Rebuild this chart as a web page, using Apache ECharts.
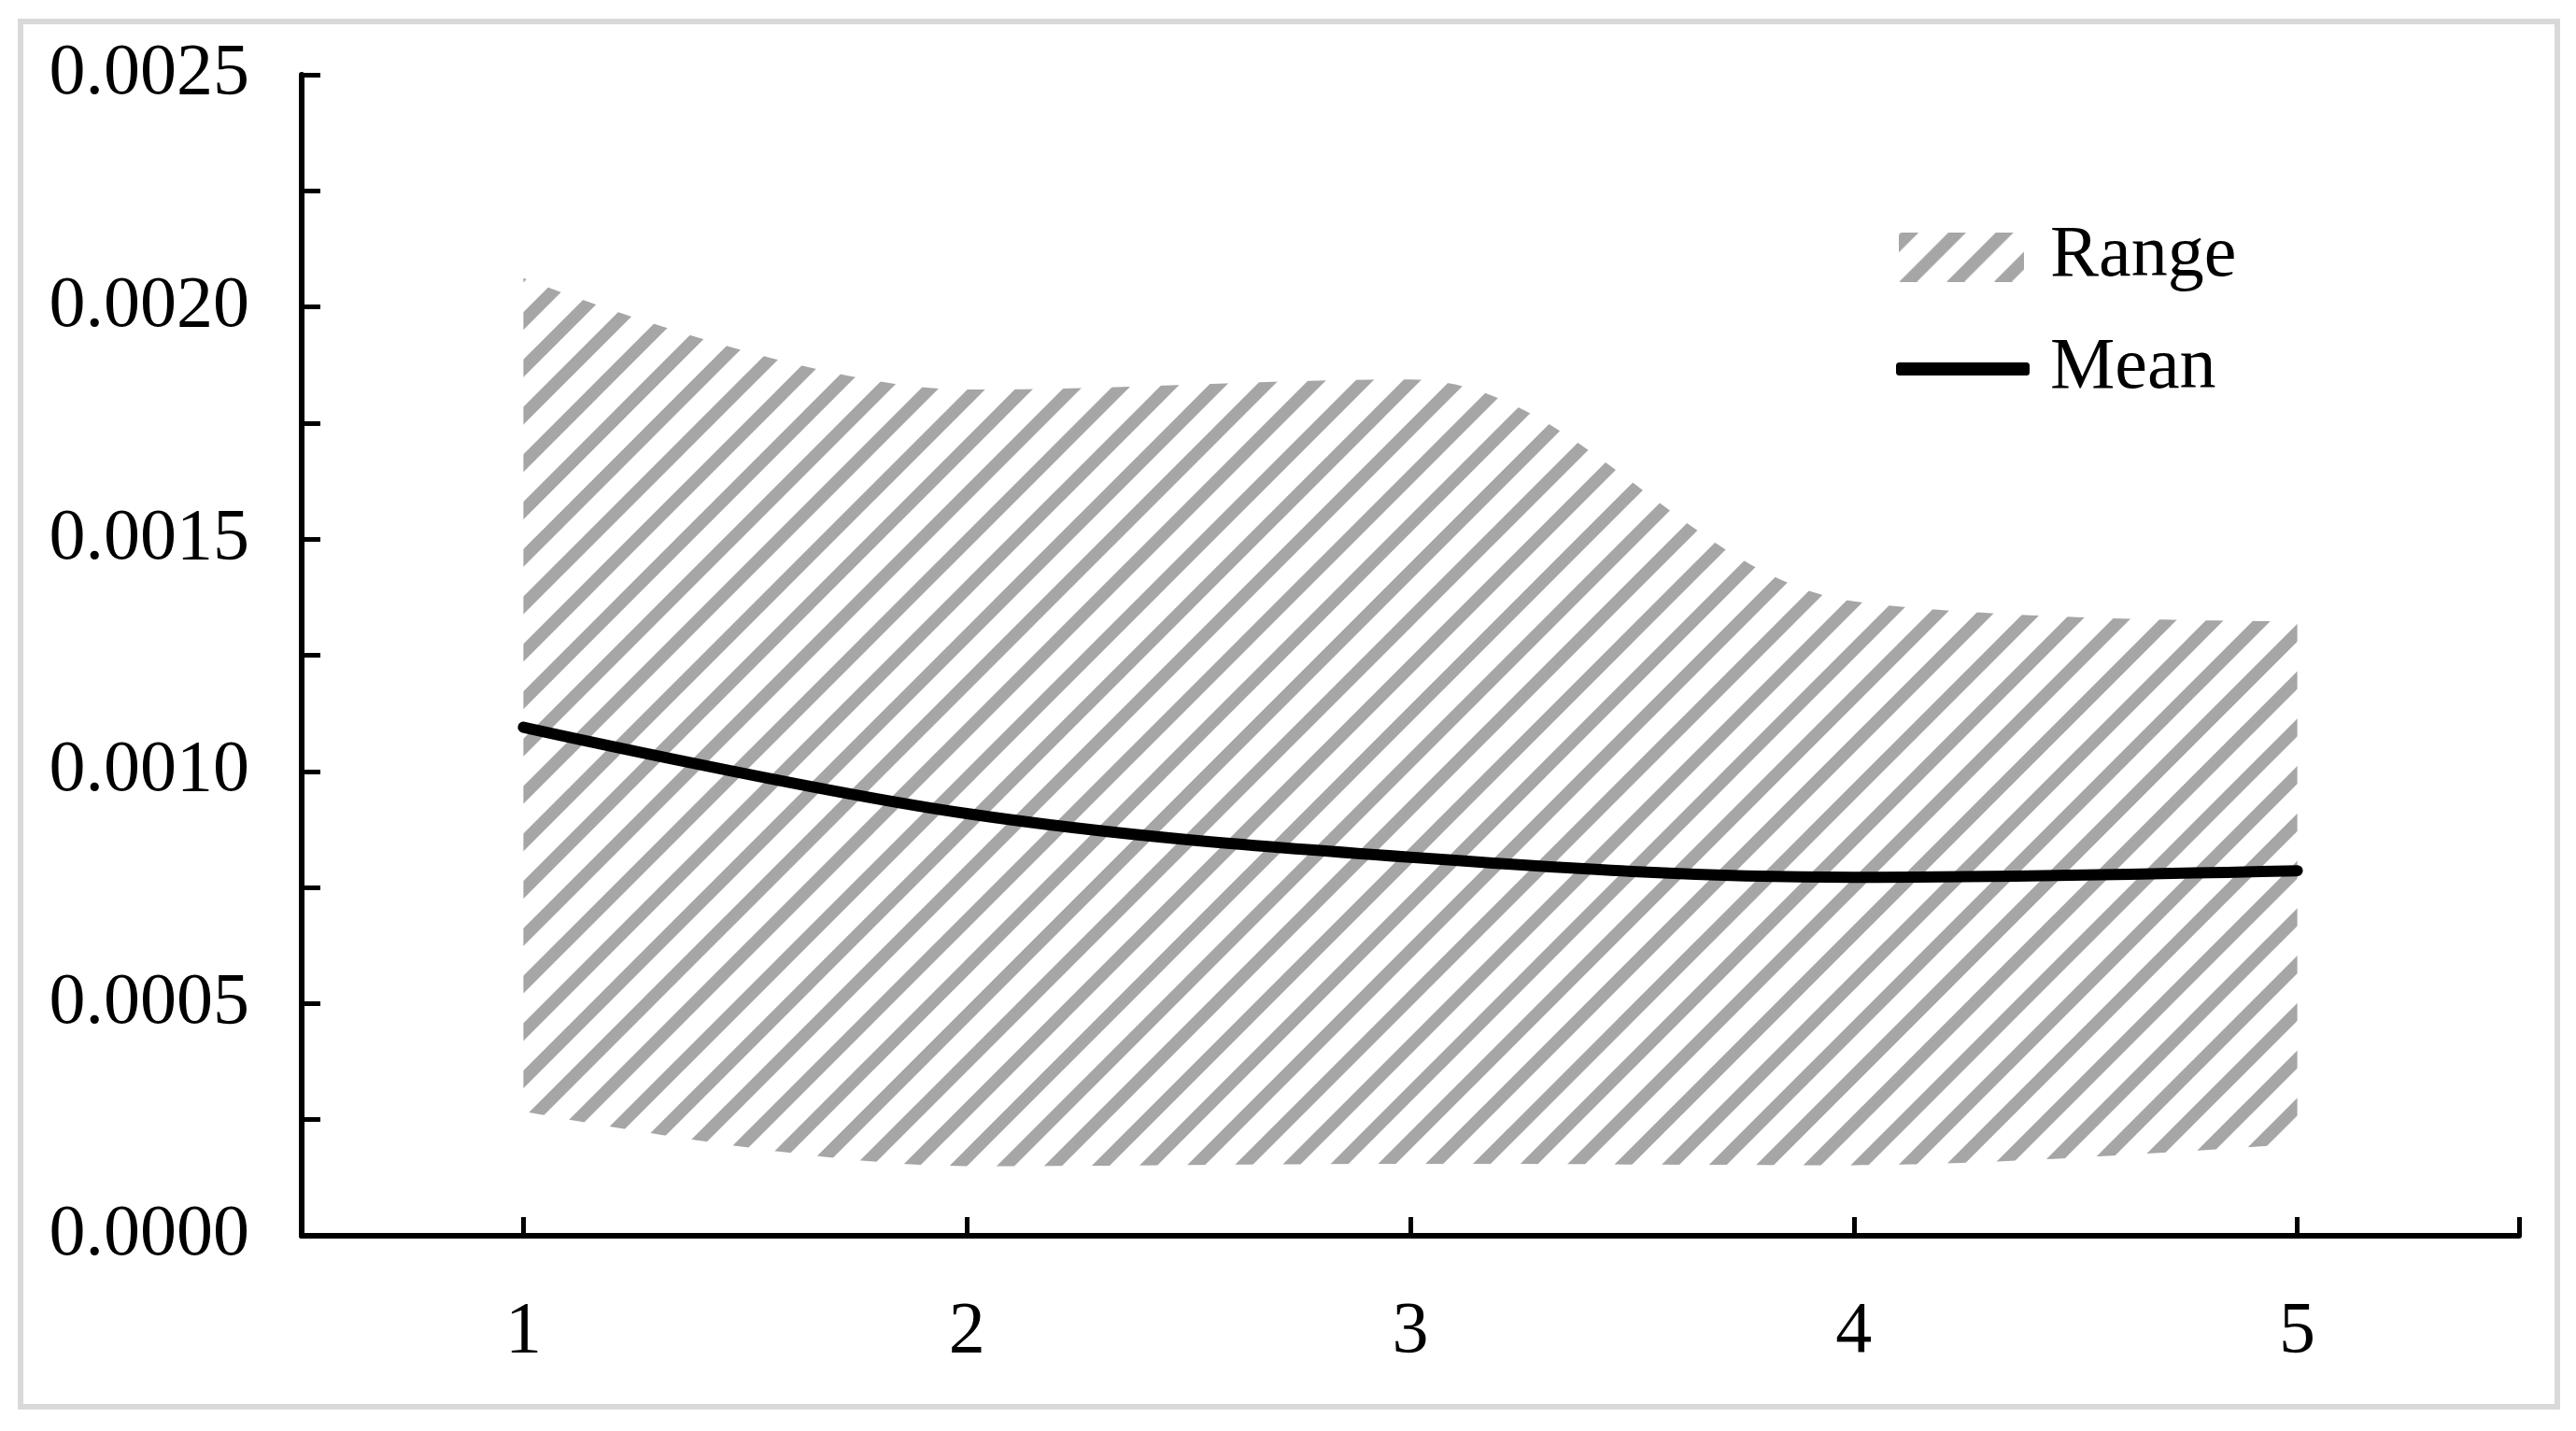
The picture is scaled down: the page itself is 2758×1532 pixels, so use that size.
<!DOCTYPE html>
<html><head><meta charset="utf-8">
<script src="https://cdn.jsdelivr.net/npm/echarts@6/dist/echarts.min.js"></script>
<style>html,body{margin:0;padding:0;background:#fff}#c{width:2758px;height:1532px}</style>
</head><body><div id="c"></div>
<script>
const categories = [1, 2, 3, 4, 5];
const rangeLower = [0.000268, 0.000150, 0.000155, 0.000152, 0.000198];
const rangeUpper = [0.002062, 0.001822, 0.001844, 0.001366, 0.001323];
const meanValues = [0.001095, 0.000909, 0.000815, 0.000772, 0.000786];
const yTickLabels = [0, 0.0005, 0.0010, 0.0015, 0.0020, 0.0025];
const xAxisEnds = [0.5, 5.5];

const HATCH = '#A6A6A6';
function makeHatch(phase) {
  const S = 203, P = S / 4, w = 19;
  const cv = document.createElement('canvas');
  cv.width = S; cv.height = S;
  const ctx = cv.getContext('2d');
  ctx.fillStyle = '#fff';
  ctx.fillRect(0, 0, S, S);
  ctx.strokeStyle = HATCH;
  ctx.lineWidth = w / Math.SQRT2;
  for (let k = -3; k < 14; k++) {
    const s = phase + k * P;
    ctx.beginPath();
    ctx.moveTo(s + 10, -10);
    ctx.lineTo(s - S - 10, S + 10);
    ctx.stroke();
  }
  return cv;
}
function makeLegendHatch(W, H, phase) {
  const P = 50.75, w = 19;
  const cv = document.createElement('canvas');
  cv.width = W; cv.height = H;
  const ctx = cv.getContext('2d');
  ctx.fillStyle = '#fff';
  ctx.fillRect(0, 0, W, H);
  ctx.strokeStyle = HATCH;
  ctx.lineWidth = w / Math.SQRT2;
  for (let k = -2; k < 8; k++) {
    const s = phase + k * P;
    ctx.beginPath();
    ctx.moveTo(s + 10, -10);
    ctx.lineTo(s - H - 10, H + 10);
    ctx.stroke();
  }
  return cv.toDataURL();
}
const hatchArea = { image: makeHatch(41.2), repeat: 'repeat' };
const legendHatchIcon = 'image://' + makeLegendHatch(134, 53, 63);

const font = 'Liberation Serif';

const chart = echarts.init(document.getElementById('c'), null, { renderer: 'canvas' });
chart.setOption({
  animation: false,
  backgroundColor: '#fff',
  textStyle: { fontFamily: font },
  grid: { left: 323, right: 61, top: 80, bottom: 209, containLabel: false, outerBoundsMode: 'none' },
  xAxis: [{
    type: 'value',
    min: xAxisEnds[0], max: xAxisEnds[1],
    z: 10,
    splitLine: { show: false },
    axisLine: { show: true, lineStyle: { color: '#000', width: 6 } },
    axisTick: { show: true, inside: true, length: 20, lineStyle: { color: '#000', width: 5 },
      customValues: [xAxisEnds[0]].concat(categories, [xAxisEnds[1]]) },
    axisLabel: { customValues: categories, margin: 65, color: '#000', fontSize: 78, fontFamily: font,
      formatter: v => String(v) }
  }, {
    type: 'category', data: categories, boundaryGap: true, show: false, position: 'bottom'
  }],
  yAxis: {
    type: 'value',
    min: yTickLabels[0], max: yTickLabels[yTickLabels.length - 1], interval: 0.0005,
    z: 10,
    splitLine: { show: false },
    axisLine: { show: true, lineStyle: { color: '#000', width: 6 } },
    axisTick: { show: true, inside: true, length: 20, lineStyle: { color: '#000', width: 5 } },
    minorTick: { show: true, splitNumber: 2, length: 20, lineStyle: { color: '#000', width: 5 } },
    minorSplitLine: { show: false },
    axisLabel: { margin: 56, color: '#000', fontSize: 78, fontFamily: font,
      formatter: v => Number(v).toFixed(4) }
  },
  legend: [
    { data: [{ name: 'Range', icon: legendHatchIcon }],
      left: 2033, top: 236, padding: 0, itemWidth: 134, itemHeight: 53, selectedMode: false,
      itemStyle: { borderWidth: 0 },
      textStyle: { fontSize: 78, fontFamily: font, color: '#000', padding: [0, 0, 0, 23] } },
    { data: [{ name: 'Mean', icon: 'roundRect', itemStyle: { color: '#000', borderWidth: 0 } }],
      left: 2030, top: 356, padding: 0, itemWidth: 143, itemHeight: 14, selectedMode: false,
      itemStyle: { borderWidth: 0 },
      textStyle: { fontSize: 78, fontFamily: font, color: '#000', padding: [0, 0, 0, 17] } }
  ],
  graphic: [{
    type: 'rect', left: 19, top: 20, z: -10, silent: true,
    shape: { width: 2716, height: 1483 },
    style: { fill: null, stroke: '#D9D9D9', lineWidth: 6 }
  }],
  series: [
    { name: 'Lower', type: 'line', xAxisIndex: 1, stack: 'range', data: rangeLower, smooth: 0.35,
      symbol: 'none', silent: true, lineStyle: { width: 0, opacity: 0 }, z: 1 },
    { name: 'Range', type: 'line', xAxisIndex: 1, stack: 'range',
      data: rangeUpper.map((u, i) => u - rangeLower[i]), smooth: 0.35,
      symbol: 'none', silent: true, color: HATCH,
      lineStyle: { width: 0, opacity: 0 }, areaStyle: { color: hatchArea, opacity: 1 }, z: 1 },
    { name: 'Mean', type: 'line', xAxisIndex: 1, data: meanValues, smooth: 0.35, symbol: 'none', silent: true,
      color: '#000', lineStyle: { color: '#000', width: 12, cap: 'round', join: 'round' }, z: 3 }
  ]
});
</script></body></html>
